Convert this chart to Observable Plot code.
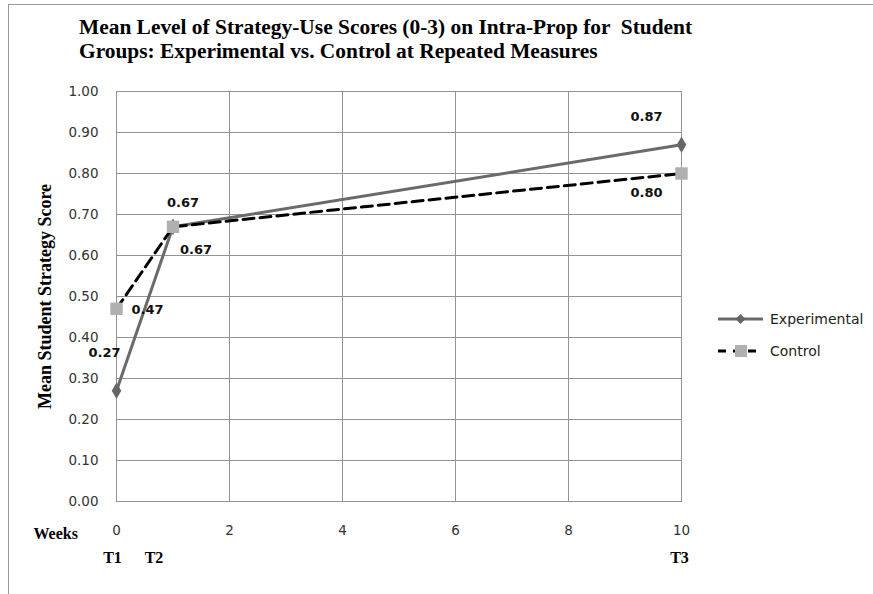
<!DOCTYPE html>
<html><head><meta charset="utf-8">
<script src="https://cdn.jsdelivr.net/npm/d3@7"></script>
<script src="https://cdn.jsdelivr.net/npm/@observablehq/plot@0.6"></script>
<style>
body{margin:0;background:#fff;}
#wrap{position:relative;width:873px;height:594px;overflow:hidden;}
#frame{position:absolute;left:8px;top:4px;width:900px;height:620px;border-left:1px solid #9a9a9a;border-top:1px solid #9a9a9a;}
#title{position:absolute;left:79px;top:15px;font-family:"Liberation Serif",serif;font-weight:bold;font-size:21.4px;line-height:24px;color:#000;white-space:pre;}
#chart{position:absolute;left:0;top:0;}
#legend{position:absolute;left:0;top:0;}
</style></head>
<body><div id="wrap"><div id="frame"></div><div id="chart"></div>
<div id="title">Mean Level of Strategy-Use Scores (0-3) on Intra-Prop for  Student
Groups: Experimental vs. Control at Repeated Measures</div>
<svg id="legend" width="873" height="594"></svg></div>
<script>
const weeks = [0, 1, 10];
const experimental = [0.27, 0.67, 0.87];
const control = [0.47, 0.67, 0.80];
const series = ["Experimental", "Control"];
const xTicks = [0, 2, 4, 6, 8, 10];
const yTicks = [0, 0.1, 0.2, 0.3, 0.4, 0.5, 0.6, 0.7, 0.8, 0.9, 1.0];
const timeLabels = ["T1", "T2", "T3"];

const exp = weeks.map((w, i) => ({week: w, value: experimental[i], series: series[0]}));
const ctl = weeks.map((w, i) => ({week: w, value: control[i], series: series[1]}));
const tl = weeks.map((w, i) => ({week: w, label: timeLabels[i]}));

// label offsets (styling)
const expOff = [[-12, -38], [23, 23], [-35, -28]];
const ctlOff = [[31, 1], [10, -24], [-35, 19]];
const tOff = [-4, -19, -2];

const fmt = d3.format(".2f");
const labelMarks = [];
exp.forEach((d, i) => labelMarks.push(Plot.text([d], {x: "week", y: "value", text: d => fmt(d.value), dx: expOff[i][0], dy: expOff[i][1], fontWeight: "bold", fontSize: 13, fill: "#111"})));
ctl.forEach((d, i) => labelMarks.push(Plot.text([d], {x: "week", y: "value", text: d => fmt(d.value), dx: ctlOff[i][0], dy: ctlOff[i][1], fontWeight: "bold", fontSize: 13, fill: "#111"})));
tl.forEach((d, i) => labelMarks.push(Plot.text([d], {x: "week", frameAnchor: "bottom", text: "label", dx: tOff[i], dy: 61, fontFamily: "Liberation Serif, serif", fontWeight: "bold", fontSize: 16, fill: "#000"})));

const plot = Plot.plot({
  width: 873, height: 594,
  marginLeft: 116, marginRight: 192, marginTop: 91, marginBottom: 93,
  style: {fontFamily: "DejaVu Sans, sans-serif", color: "#333", background: "transparent", overflow: "visible"},
  x: {domain: [0, 10], ticks: xTicks, label: null, axis: null},
  y: {domain: [0, 1], ticks: yTicks, label: null, axis: null},
  marks: [
    Plot.gridX(xTicks, {stroke: "#939393", strokeOpacity: 1}),
    Plot.gridY(yTicks, {stroke: "#939393", strokeOpacity: 1}),
    Plot.frame({stroke: "#939393"}),
    Plot.text(yTicks, {y: d => d, frameAnchor: "left", textAnchor: "end", dx: -18, text: d => fmt(d), fontSize: 13.5, fill: "#333"}),
    Plot.text(xTicks, {x: d => d, frameAnchor: "bottom", dy: 33, text: d => String(d), fontSize: 13.5, fill: "#333"}),
    Plot.text(["Weeks"], {frameAnchor: "bottom-left", textAnchor: "start", dx: -83, dy: 37, fontFamily: "Liberation Serif, serif", fontWeight: "bold", fontSize: 16, fill: "#000"}),
    Plot.text(["Mean Student Strategy Score"], {frameAnchor: "left", textAnchor: "middle", dx: -71, rotate: -90, fontFamily: "Liberation Serif, serif", fontWeight: "bold", fontSize: 18, fill: "#000"}),
    Plot.line(exp, {x: "week", y: "value", stroke: "#6a6a6a", strokeWidth: 3}),
    Plot.line(ctl, {x: "week", y: "value", stroke: "#000", strokeWidth: 3, strokeDasharray: "11,6"}),
    Plot.dot(exp, {x: "week", y: "value", symbol: "diamond", r: 5, fill: "#666", stroke: null}),
    Plot.dot(ctl, {x: "week", y: "value", symbol: "square", r: 7, fill: "#b0b0b0", stroke: null}),
    ...labelMarks
  ]
});
document.getElementById("chart").appendChild(plot);

// legend
const lg = d3.select("#legend");
const items = [
  {name: series[0], y: 319, stroke: "#6a6a6a", dash: null, sym: "diamond", fill: "#666"},
  {name: series[1], y: 351, stroke: "#000", dash: "8,7", sym: "square", fill: "#b0b0b0"}
];
items.forEach(it => {
  lg.append("line").attr("x1", 718).attr("x2", 763).attr("y1", it.y).attr("y2", it.y)
    .attr("stroke", it.stroke).attr("stroke-width", 3).attr("stroke-dasharray", it.dash);
  if (it.sym === "diamond") lg.append("path").attr("d", "M740.5,314 L745.5,319 L740.5,324 L735.5,319Z").attr("fill", it.fill);
  else lg.append("rect").attr("x", 735).attr("y", it.y - 6).attr("width", 12).attr("height", 12).attr("fill", it.fill);
  lg.append("text").attr("x", 770).attr("y", it.y + 5).text(it.name)
    .attr("font-family", "DejaVu Sans, sans-serif").attr("font-size", 14).attr("fill", "#222");
});
</script></body></html>
